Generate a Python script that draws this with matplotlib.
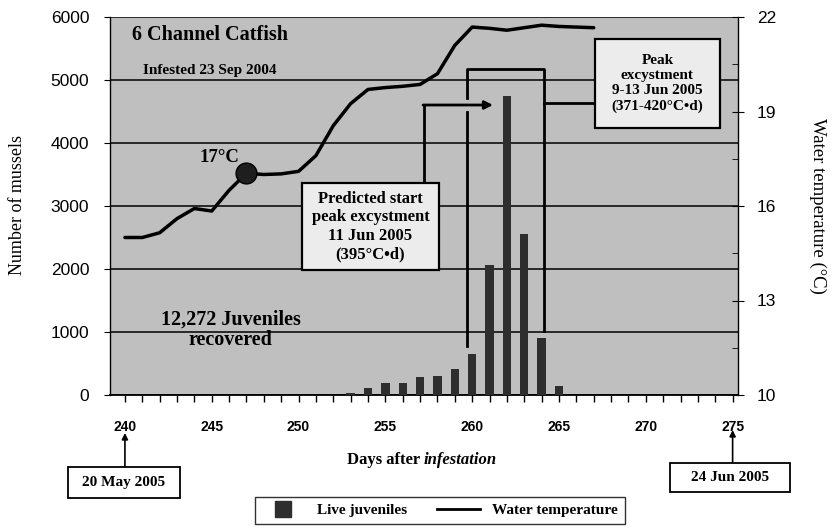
import matplotlib
matplotlib.use("Agg")
import matplotlib.pyplot as plt
from matplotlib.lines import Line2D
from matplotlib.patches import Rectangle
import matplotlib.ticker as mticker
import matplotlib.transforms as mtransforms

# ---------------- data ----------------
juv_days = [253, 254, 255, 256, 257, 258, 259, 260, 261, 262, 263, 264, 265]
juv_counts = [30, 110, 185, 190, 290, 305, 405, 650, 2070, 4750, 2560, 900, 150]

temp_days = list(range(240, 268))
temps = [15.0, 15.0, 15.15, 15.6, 15.92, 15.84, 16.5, 17.04, 17.0, 17.02,
         17.1, 17.6, 18.55, 19.25, 19.7, 19.76, 19.8, 19.86, 20.2, 21.1,
         21.68, 21.64, 21.58, 21.66, 21.74, 21.7, 21.68, 21.66]

marker_day = 247
marker_temp = 17.04

x_ticks = [240, 245, 250, 255, 260, 265, 270, 275]
y_left_ticks = [0, 1000, 2000, 3000, 4000, 5000, 6000]
y_right_ticks = [10, 13, 16, 19, 22]
y_right_minor = [11.5, 14.5, 17.5, 20.5]

SERIF = "Liberation Serif"
SANS = "Liberation Sans"

# ---------------- figure ----------------
W, H = 836, 531
fig = plt.figure(figsize=(W / 100, H / 100), dpi=100)
L, R, B, T = 110, 738, 395, 17
ax = fig.add_axes([L / W, 1 - B / H, (R - L) / W, (B - T) / H])
ax.set_facecolor("#bfbfbf")
ax.set_xlim(239.14, 275.31)
ax.set_ylim(0, 6000)

ax.bar(juv_days, juv_counts, width=0.48, color="#2e2e2e", zorder=3)
ax.set_yticks(y_left_ticks)
ax.yaxis.grid(True, color="black", lw=1.1, zorder=1)
ax.set_axisbelow(True)
ax.xaxis.set_major_locator(mticker.FixedLocator(x_ticks))
ax.xaxis.set_minor_locator(mticker.MultipleLocator(1))
ax.tick_params(axis="x", which="both", direction="out", length=5, width=1, color="black")
ax.tick_params(axis="x", which="major", pad=13, labelsize=10)
ax.tick_params(axis="y", direction="out", length=4, pad=11, labelsize=12.5)
for lab in ax.get_xticklabels():
    lab.set_fontfamily(SANS)
    lab.set_fontweight("bold")
for lab in ax.get_yticklabels():
    lab.set_fontfamily(SANS)
for s in ["top", "right"]:
    ax.spines[s].set_visible(False)
ax.spines["left"].set_linewidth(1.0)
ax.spines["bottom"].set_linewidth(1.3)

ax2 = ax.twinx()
ax2.set_ylim(10, 22)
ax2.plot(temp_days, temps, color="black", lw=2.5, zorder=4, solid_capstyle="round",
         solid_joinstyle="round")
ax2.plot([marker_day], [marker_temp], "o", ms=15, color="#1e1e1e", mec="black", zorder=5)
ax2.set_yticks(y_right_ticks)
ax2.yaxis.set_minor_locator(mticker.FixedLocator(y_right_minor))
ax2.tick_params(axis="y", which="major", direction="inout", length=9, pad=9, labelsize=12.5)
ax2.tick_params(axis="y", which="minor", direction="in", length=4)
for lab in ax2.get_yticklabels():
    lab.set_fontfamily(SANS)
ax2.spines["top"].set_visible(False)
ax2.spines["left"].set_visible(False)
ax2.spines["bottom"].set_visible(False)
ax2.spines["right"].set_linewidth(1.0)

# ---------------- annotations inside plot ----------------
ax.text(240.4, 5714, "6 Channel Catfish", family=SERIF, weight="bold", fontsize=14.5,
        ha="left", va="center", zorder=6)
ax.text(241.04, 5150, "Infested 23 Sep 2004", family=SERIF, weight="bold", fontsize=11,
        ha="left", va="center", zorder=6)
ax.text(245.47, 3770, "17°C", family=SERIF, weight="bold", fontsize=13.5,
        ha="center", va="center", zorder=6)
ax.text(246.1, 1032, "12,272 Juveniles\nrecovered", family=SERIF, weight="bold",
        fontsize=14.5, ha="center", va="center", linespacing=1.05, zorder=6)

# Predicted box
pb_x0, pb_x1, pb_y0, pb_y1 = 250.2, 258.09, 1990, 3365
ax.add_patch(Rectangle((pb_x0, pb_y0), pb_x1 - pb_x0, pb_y1 - pb_y0,
                       facecolor="#ececec", edgecolor="black", lw=1.6, zorder=6))
ax.text((pb_x0 + pb_x1) / 2, (pb_y0 + pb_y1) / 2,
        "Predicted start\npeak excystment\n11 Jun 2005\n(395°C•d)",
        family=SERIF, weight="bold", fontsize=12, ha="center", va="center",
        linespacing=1.2, zorder=7)

# arrow from predicted box
arr_x, arr_y, arr_tip = 257.22, 4603, 261.2
ax.plot([arr_x, arr_x], [pb_y1, arr_y], color="black", lw=2, zorder=6, solid_capstyle="butt")
ax.annotate("", xy=(arr_tip, arr_y), xytext=(arr_x - 0.05, arr_y),
            arrowprops=dict(arrowstyle="-|>", color="black", lw=2, mutation_scale=12,
                            shrinkA=0, shrinkB=0), zorder=6)

# bracket around peak
br_x0, br_x1, br_top = 259.70, 264.14, 5175
br_b0, br_b1 = 778, 1016
gap_lo, gap_hi = 4492, 4714
ax.plot([br_x0, br_x0], [br_b0, gap_lo], color="black", lw=2, zorder=6)
ax.plot([br_x0, br_x0, br_x1, br_x1], [gap_hi, br_top, br_top, br_b1], color="black", lw=2, zorder=6)

# Peak box
kb_x0, kb_x1, kb_y0, kb_y1 = 267.07, 274.27, 4238, 5651
conn_y = 4635
ax.plot([br_x1, kb_x0], [conn_y, conn_y], color="black", lw=2, zorder=6)
ax.add_patch(Rectangle((kb_x0, kb_y0), kb_x1 - kb_x0, kb_y1 - kb_y0,
                       facecolor="#ececec", edgecolor="black", lw=1.6, zorder=6))
ax.text((kb_x0 + kb_x1) / 2, (kb_y0 + kb_y1) / 2,
        "Peak\nexcystment\n9-13 Jun 2005\n(371-420°C•d)",
        family=SERIF, weight="bold", fontsize=11, ha="center", va="center",
        linespacing=1.2, zorder=7)

# ---------------- outside annotations ----------------
bt = mtransforms.blended_transform_factory(ax.transData, fig.transFigure)

def fy(py):
    return 1 - py / H

for day, label, top_px, tip_px, box in [
    (240, "20 May 2005", 467, 433, (68, 180, 467, 498)),
    (275, "24 Jun 2005", 463, 430, (670, 790, 463, 492)),
]:
    ax.annotate("", xy=(day, fy(tip_px)), xycoords=bt, xytext=(day, fy(top_px)), textcoords=bt,
                arrowprops=dict(arrowstyle="-|>", color="black", lw=1.2, mutation_scale=9,
                                shrinkA=0, shrinkB=0), annotation_clip=False)
    x0, x1, y0, y1 = box
    fig.add_artist(Rectangle((x0 / W, fy(y1)), (x1 - x0) / W, (y1 - y0) / H,
                             transform=fig.transFigure, facecolor="white",
                             edgecolor="black", lw=1.3))
    fig.text((x0 + x1) / 2 / W, fy((y0 + y1) / 2), label, family=SERIF, weight="bold",
             fontsize=11, ha="center", va="center")

fig.text(424 / W, fy(460), "Days after ", family=SERIF, weight="bold", fontsize=12,
         ha="right", va="center")
fig.text(424 / W, fy(460), "infestation", family=SERIF, weight="bold", style="italic",
         fontsize=12, ha="left", va="center")

fig.text(18 / W, fy(205), "Number of mussels", family=SERIF, fontsize=13, rotation=90,
         ha="center", va="center")
fig.text(818 / W, fy(206), "Water temperature (°C)", family=SERIF, fontsize=13.5,
         rotation=270, ha="center", va="center")

handles = [Line2D([], [], marker="s", ls="none", ms=11, mfc="#2e2e2e", mec="#2e2e2e"),
           Line2D([], [], color="black", lw=2)]
leg = fig.legend(handles, ["Live juveniles", "Water temperature"], loc="center",
                 bbox_to_anchor=(440 / W, fy(510.5)), ncol=2, frameon=True,
                 fancybox=False, edgecolor="black", handlelength=2.8,
                 columnspacing=2.0, borderpad=0.45,
                 prop=dict(family=SERIF, weight="bold", size=11))
leg.get_frame().set_linewidth(1.0)

fig.savefig("out.png", dpi=100, facecolor="white")
